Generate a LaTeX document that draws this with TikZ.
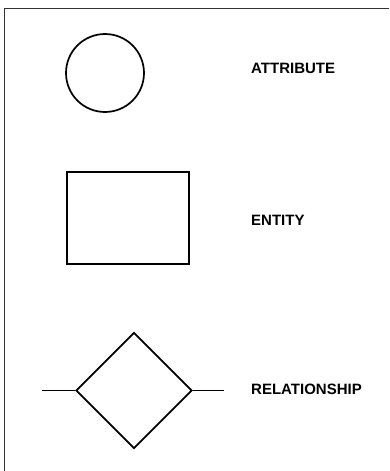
\documentclass[tikz,border=0pt]{standalone}
\usepackage{fontspec}
\setsansfont{Liberation Sans}
\usetikzlibrary{shapes.geometric}
\tikzset{
  symb/.style={draw, line width=1.7pt, inner sep=0pt},
  attrsym/.style={symb, circle, minimum size=78pt},
  entsym/.style={symb, rectangle, minimum width=122pt, minimum height=92pt},
  relsym/.style={symb, diamond, aspect=1, minimum width=116pt, minimum height=116pt},
  lbl/.style={anchor=west, inner sep=0pt, font=\sffamily\bfseries\fontsize{15}{18}\selectfont},
  frame/.style={line width=0.9pt, black!80}
}
\begin{document}
\begin{tikzpicture}[x=1pt, y=-1pt]
\useasboundingbox (0,0) rectangle (389,471);
\draw[frame] (4.5,471) -- (4.5,8) -- (389,8);

\node[attrsym] (attr) at (105,73) {};
\node[entsym] (ent) at (128,218) {};
\node[relsym] (rel) at (134,390.5) {};

\node[lbl] (attrlbl) at (251,68) {ATTRIBUTE};
\node[lbl] (entlbl) at (251,220) {ENTITY};
\node[lbl] (rellbl) at (251,389) {RELATIONSHIP};

\coordinate (relleft) at (42,390.5);
\coordinate (relright) at (224,390.5);
\draw[line width=1.7pt] (relleft) -- (rel.west);
\draw[line width=1.7pt] (rel.east) -- (relright);
\end{tikzpicture}
\end{document}
